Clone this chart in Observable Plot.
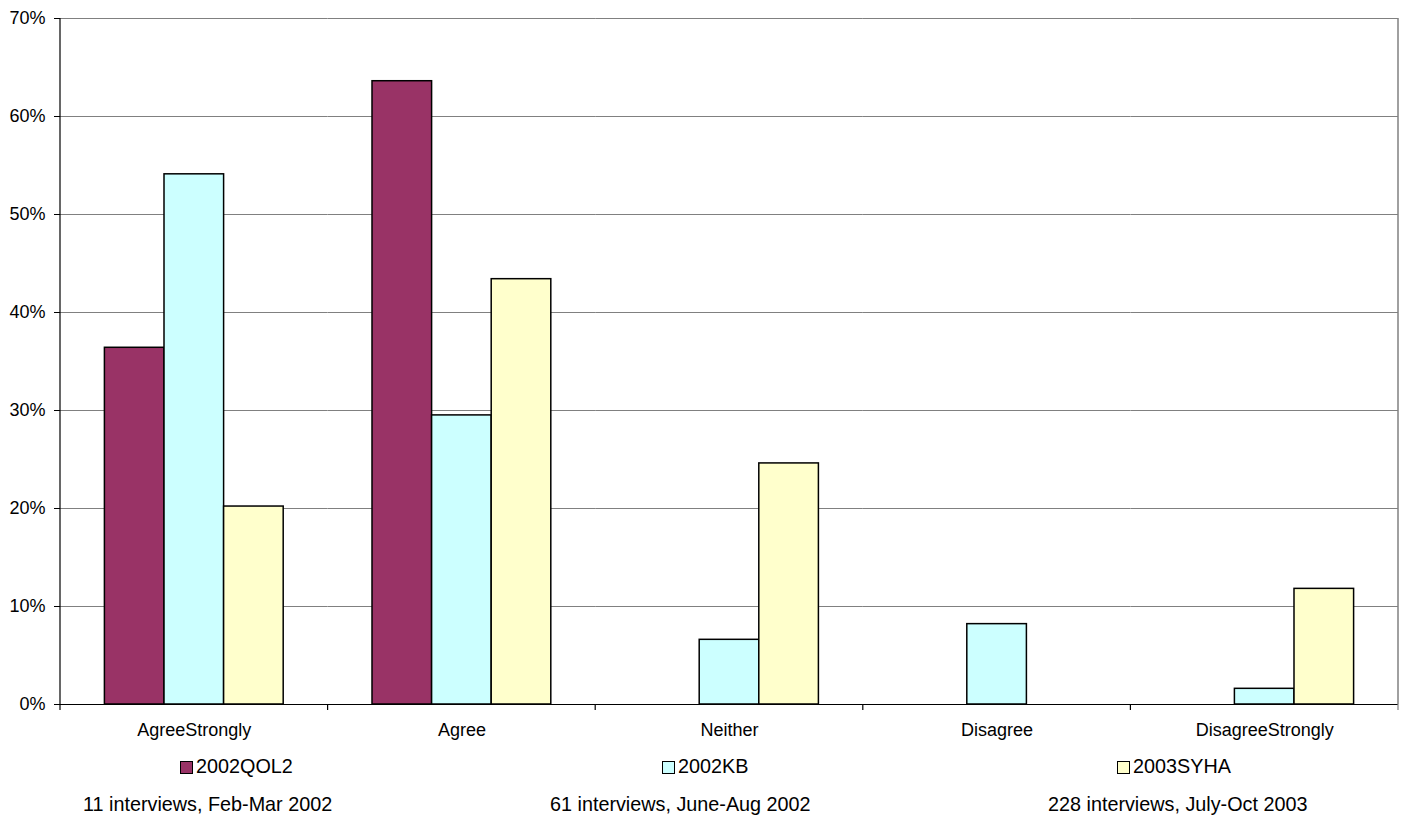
<!DOCTYPE html>
<html>
<head>
<meta charset="utf-8">
<script src="https://cdn.jsdelivr.net/npm/d3@7"></script>
<script src="https://cdn.jsdelivr.net/npm/@observablehq/plot@0.6"></script>
<style>
  html, body { margin: 0; padding: 0; background: white; }
  #wrap { position: relative; width: 1403px; height: 817px; font-family: "Liberation Sans", Arial, sans-serif; }
  .leg { position: absolute; font-size: 19.8px; color: #000; white-space: nowrap; line-height: 1; }
  .sw { display: inline-block; width: 11px; height: 11px; border: 1.5px solid #000; vertical-align: -1px; margin-right: 3px; }
</style>
</head>
<body>
<div id="wrap"><div id="chart"></div></div>
<script>
const categories = ["AgreeStrongly", "Agree", "Neither", "Disagree", "DisagreeStrongly"];
const series = ["2002QOL2", "2002KB", "2003SYHA"];
const qol2 = [0.364, 0.636, 0, 0, 0];
const kb = [0.541, 0.295, 0.066, 0.082, 0.016];
const syha = [0.202, 0.434, 0.246, 0, 0.118];
const colors = ["#993366", "#CCFFFF", "#FFFFCC"];
const yTicks = [0, 0.1, 0.2, 0.3, 0.4, 0.5, 0.6, 0.7];
const captions = ["11 interviews, Feb-Mar 2002", "61 interviews, June-Aug 2002", "228 interviews, July-Oct 2003"];

const seriesValues = [qol2, kb, syha];
const data = [];
categories.forEach((c, i) => {
  series.forEach((s, j) => {
    const v = seriesValues[j][i];
    if (v > 0) data.push({category: c, series: s, value: v});
  });
});

const plot = Plot.plot({
  width: 1403,
  height: 744,
  marginLeft: 60,
  marginRight: 5,
  marginTop: 18,
  marginBottom: 40,
  style: {fontFamily: "'Liberation Sans', Arial, sans-serif", fontSize: "18px", background: "white", overflow: "visible", color: "black"},
  fx: {domain: categories, paddingInner: 0, paddingOuter: 0, round: false, label: null},
  x: {domain: series, paddingInner: 0, paddingOuter: 0.745, round: false, axis: null},
  y: {domain: [0, 0.7], label: null},
  color: {domain: series, range: colors},
  marks: [
    Plot.gridY(yTicks, {stroke: "#808080", strokeOpacity: 1, strokeWidth: 1.2}),
    Plot.barY(data, {fx: "category", x: "series", y: "value", fill: "series", stroke: "black", strokeWidth: 1.5, inset: 0}),
    Plot.ruleY([0], {stroke: "black", strokeWidth: 1.2}),
    Plot.axisY({ticks: yTicks, tickFormat: d3.format(".0%"), tickSize: 6, tickPadding: 9, stroke: "black", strokeOpacity: 1, label: null, fontSize: 18}),
    Plot.axisFx({anchor: "bottom", tickSize: 0, tickPadding: 19, label: null, fontSize: 18})
  ]
});
document.getElementById("chart").appendChild(plot);

// axis decorations: left axis line, right border, category boundary ticks
const svg = d3.select(plot);
const fx = plot.scale("fx");
const y = plot.scale("y");
const y0 = y.apply(0), y1 = y.apply(0.7);
const bounds = categories.map(c => fx.apply(c));
bounds.push(fx.apply(categories[categories.length - 1]) + fx.bandwidth);
const g = svg.append("g");
g.append("line").attr("x1", bounds[bounds.length - 1]).attr("x2", bounds[bounds.length - 1])
  .attr("y1", y1).attr("y2", y0).attr("stroke", "#808080").attr("stroke-width", 1.5);
g.append("line").attr("x1", bounds[0]).attr("x2", bounds[0])
  .attr("y1", y1).attr("y2", y0).attr("stroke", "black").attr("stroke-width", 1.2);
bounds.forEach((b, i) => {
  g.append("line").attr("x1", b).attr("x2", b).attr("y1", y0).attr("y2", y0 + 6)
    .attr("stroke", i === bounds.length - 1 ? "#808080" : "black").attr("stroke-width", 1.2);
});

// legend and captions below the plot
const wrap = document.getElementById("wrap");
const legendLeft = [180, 662, 1117];
const captionLeft = [83, 550, 1048];
series.forEach((s, i) => {
  const d = document.createElement("div");
  d.className = "leg";
  d.style.left = legendLeft[i] + "px";
  d.style.top = "757px";
  const sw = document.createElement("span");
  sw.className = "sw";
  sw.style.background = colors[i];
  d.appendChild(sw);
  d.appendChild(document.createTextNode(s));
  wrap.appendChild(d);
});
captions.forEach((t, i) => {
  const d = document.createElement("div");
  d.className = "leg";
  d.style.left = captionLeft[i] + "px";
  d.style.top = "795px";
  d.textContent = t;
  wrap.appendChild(d);
});
</script>
</body>
</html>
